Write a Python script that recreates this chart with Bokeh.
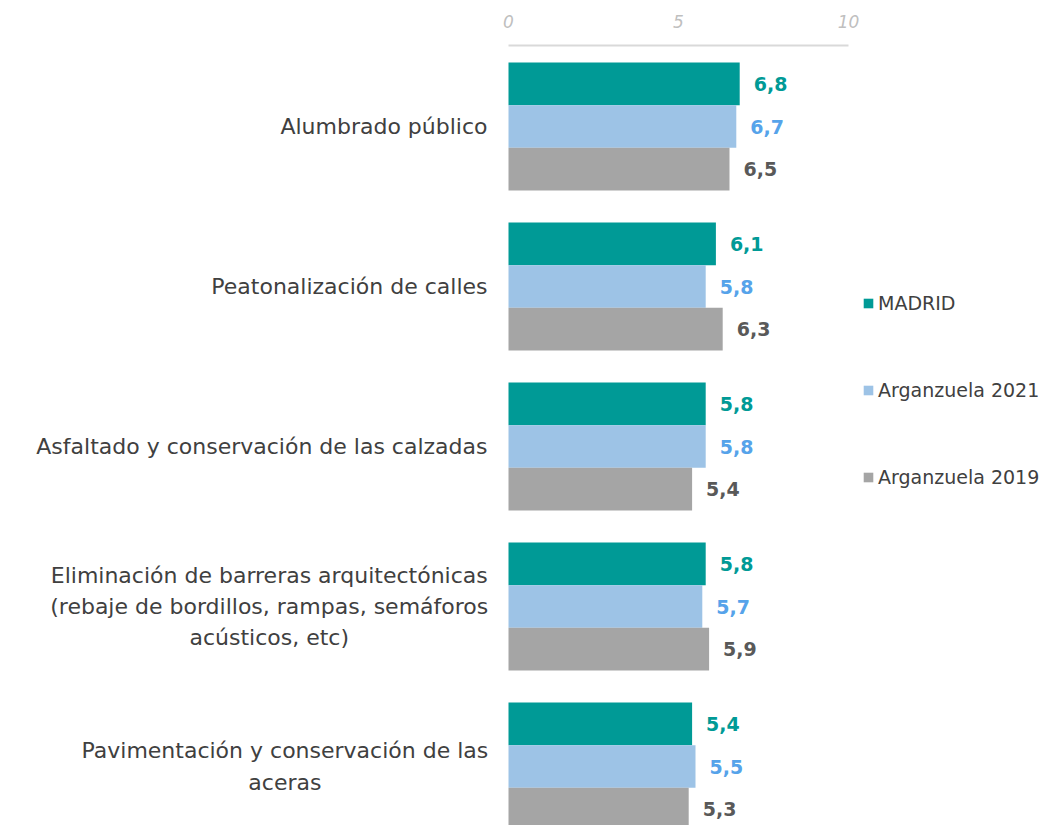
from bokeh.plotting import figure
from bokeh.models import ColumnDataSource, FixedTicker, Legend, LegendItem, Range1d
from bokeh.core.properties import value
from bokeh.embed import file_html
from bokeh.resources import INLINE

categories = [
    "Alumbrado público",
    "Peatonalización de calles",
    "Asfaltado y conservación de las calzadas",
    "Eliminación de barreras arquitectónicas\n(rebaje de bordillos, rampas, semáforos\nacústicos, etc)",
    "Pavimentación y conservación de las\naceras",
]
series_names = ["MADRID", "Arganzuela 2021", "Arganzuela 2019"]
madrid = [6.8, 6.1, 5.8, 5.8, 5.4]
arg2021 = [6.7, 5.8, 5.8, 5.7, 5.5]
arg2019 = [6.5, 6.3, 5.4, 5.9, 5.3]
x_ticks = [0, 5, 10]

bar_colors = ["#009A96", "#9DC3E6", "#A5A5A5"]
label_colors = ["#009A96", "#56A3EA", "#595959"]

W, H = 1052, 825
FRAME_LEFT = 508      # screen px of value 0
TOP = 45              # screen px of axis line
PX_PER_UNIT = 34.0
CAT_FONT_PX = 22
# approximate widest-line widths (px at 19px DejaVu Sans) for centered multi-line labels
WIDEST_AT19 = {3: 377, 4: 350}

n = len(categories)
centers = [n - 1 - i for i in range(n)]
w = 0.8 / 3
offsets = [w, 0.0, -w]

p = figure(width=W, height=H, output_backend="svg", toolbar_location=None,
           x_range=Range1d(-FRAME_LEFT / PX_PER_UNIT, (W - FRAME_LEFT) / PX_PER_UNIT),
           y_range=Range1d(-59 / 160, (n - 1) + 81 / 160),
           x_axis_location="above", y_axis_location=None,
           min_border_left=0, min_border_right=0, min_border_top=TOP, min_border_bottom=0)
p.outline_line_color = None
p.grid.visible = False
p.background_fill_color = "white"

renderers = []
for k, vals in enumerate([madrid, arg2021, arg2019]):
    ys = [c + offsets[k] for c in centers]
    src = ColumnDataSource(dict(y=ys, v=vals, t=[f"{v:.1f}".replace(".", ",") for v in vals]))
    r = p.hbar(y="y", right="v", left=0, height=w, source=src,
               fill_color=bar_colors[k], line_color=None)
    renderers.append(r)
    p.text(x="v", y="y", text="t", source=src, x_offset=14,
           text_align="left", text_baseline="middle",
           text_font=value("DejaVu Sans"), text_font_style="bold",
           text_font_size="19px", text_color=label_colors[k])

# category labels (right-aligned block, lines centred)
single = [i for i, c in enumerate(categories) if "\n" not in c]
multi = [i for i, c in enumerate(categories) if "\n" in c]
p.text(x=[0] * len(single), y=[centers[i] for i in single], text=[categories[i] for i in single],
       x_offset=-21, text_align="right", text_baseline="middle",
       text_font=value("DejaVu Sans"), text_font_size=f"{CAT_FONT_PX}px", text_color="#404040")
p.text(x=[0] * len(multi), y=[centers[i] for i in multi], text=[categories[i] for i in multi],
       x_offset=[-21 - WIDEST_AT19[i] * CAT_FONT_PX / 19 / 2 for i in multi],
       text_align="center", text_baseline="middle", text_line_height=1.25,
       text_font=value("DejaVu Sans"), text_font_size=f"{CAT_FONT_PX}px", text_color="#404040")

xa = p.xaxis[0]
xa.ticker = FixedTicker(ticks=x_ticks)
xa.bounds = (x_ticks[0], x_ticks[-1])
xa.axis_line_color = "#D9D9D9"
xa.axis_line_width = 2
xa.major_tick_line_color = None
xa.minor_tick_line_color = None
xa.major_label_text_font = "DejaVu Sans"
xa.major_label_text_font_style = "italic"
xa.major_label_text_font_size = "17px"
xa.major_label_text_color = "#BFBFBF"
xa.major_label_standoff = 12

legend = Legend(items=[LegendItem(label=series_names[k], renderers=[renderers[k]]) for k in range(3)],
                location=(862, 337), orientation="vertical",
                glyph_width=12, glyph_height=12, label_standoff=4, spacing=65, label_height=20,
                padding=0, margin=0, border_line_color=None, background_fill_alpha=0,
                label_text_font="DejaVu Sans", label_text_font_size="19px",
                label_text_color="#404040")
p.add_layout(legend, "center")

open("out.html", "w").write(file_html(p, INLINE))
